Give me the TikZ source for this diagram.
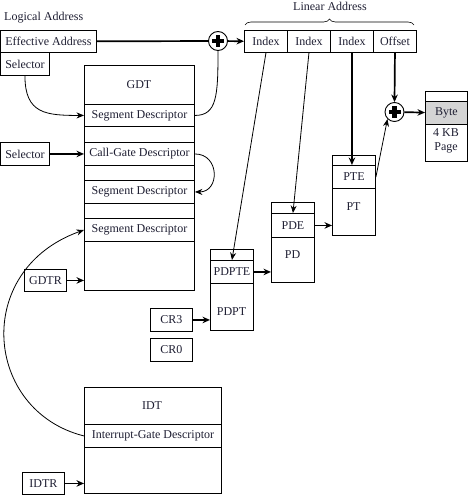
\documentclass[tikz,border=0pt]{standalone}
\usepackage{fontspec}
\setmainfont{Liberation Serif}
\usepackage{xcolor}
\usetikzlibrary{positioning, arrows.meta, decorations.pathreplacing}
\definecolor{bytegray}{RGB}{212, 212, 212}
\definecolor{inkdark}{RGB}{30, 30, 50}
\tikzset{
    cell/.style={draw, rectangle, line width=0.9pt, inner sep=0pt, anchor=north west, minimum height=23pt},
    reg/.style={cell, minimum width=42pt},
    tbl/.style={draw, rectangle, line width=0.9pt, inner sep=0pt, anchor=north west},
    adder/.style={draw, circle, line width=0.9pt, minimum size=19pt, inner sep=0pt,
        path picture={
            \fill ([xshift=-6pt, yshift=-2.1pt]path picture bounding box.center) rectangle ([xshift=6pt, yshift=2.1pt]path picture bounding box.center);
            \fill ([xshift=-2.1pt, yshift=-6pt]path picture bounding box.center) rectangle ([xshift=2.1pt, yshift=6pt]path picture bounding box.center);
        }},
    link/.style={-{Stealth[length=7.5pt, width=6pt]}, line width=0.8pt},
    boldlink/.style={-{Stealth[length=7.5pt, width=6.5pt]}, line width=1.7pt}
}

\begin{document}
\begin{tikzpicture}[x=1pt, y=-1pt, font=\fontsize{12}{13.5}\selectfont, text=inkdark]
                \useasboundingbox (0,0) rectangle (468,495);

                % Logical address
                \node[anchor=west, inner sep=0pt] (logical) at (4,18) {Logical Address};
                \node[cell, minimum width=96pt, minimum height=22pt] (eff) at (0,30) {Effective Address};
                \node[cell, minimum width=49pt] (sel1) at (0,52) {Selector};
                \node[adder] (sum1) at (218,41) {};

                % Linear address
                \node[cell, minimum width=43pt, minimum height=22pt] (idx1) at (244,30) {Index};
                \node[cell, minimum width=43pt, minimum height=22pt] (idx2) at (287,30) {Index};
                \node[cell, minimum width=43pt, minimum height=22pt] (idx3) at (330,30) {Index};
                \node[cell, minimum width=43pt, minimum height=22pt] (ofs) at (373,30) {Offset};
                \draw[decorate, decoration={brace, amplitude=6pt}, line width=0.6pt] (245,25) -- (414,25);
                \node (linear) at (330,6) {Linear Address};

                % GDT
                \node[tbl, minimum width=110pt, minimum height=225pt] (gdt) at (84,65) {};
                \node (gdttitle) at (139,85) {GDT};
                \node[cell, minimum width=110pt, minimum height=22pt] (seg1) at (84,104) {Segment Descriptor};
                \node[cell, minimum width=110pt] (call) at (84,142) {Call-Gate Descriptor};
                \node[cell, minimum width=110pt] (seg2) at (84,180) {Segment Descriptor};
                \node[cell, minimum width=110pt] (seg3) at (84,218) {Segment Descriptor};
                \node[cell, minimum width=49pt] (sel2) at (0,142) {Selector};
                \node[reg, minimum height=22pt] (gdtr) at (24,269) {GDTR};

                % IDT
                \node[tbl, minimum width=137pt, minimum height=106pt] (idt) at (84,387) {};
                \node (idttitle) at (152,406) {IDT};
                \node[cell, minimum width=137pt] (intg) at (84,424) {Interrupt-Gate Descriptor};
                \node[reg, minimum height=22pt] (idtr) at (22,472) {IDTR};

                % Control registers
                \node[reg] (cr3) at (150,308) {CR3};
                \node[reg] (cr0) at (150,338) {CR0};

                % Paging structures
                \node[tbl, minimum width=43pt, minimum height=81pt] (pdpt) at (210,249) {};
                \node[cell, minimum width=43pt] (pdpte) at (210,260) {PDPTE};
                \node (pdptlabel) at (231.5,312) {PDPT};
                \node[tbl, minimum width=43pt, minimum height=80pt] (pd) at (271,202) {};
                \node[cell, minimum width=43pt, minimum height=24pt] (pde) at (271,213) {PDE};
                \node (pdlabel) at (292.5,255) {PD};
                \node[tbl, minimum width=43pt, minimum height=80pt] (pt) at (332,155) {};
                \node[cell, minimum width=43pt] (pte) at (332,165) {PTE};
                \node (ptlabel) at (353.5,207) {PT};

                % Page
                \node[tbl, minimum width=42pt, minimum height=70pt] (page) at (425,91) {};
                \node[cell, minimum width=42pt, fill=bytegray] (byte) at (425,101) {Byte};
                \node[align=center, inner sep=0pt] (pagelabel) at (446,141) {4 KB\\Page};
                \node[adder] (sum2) at (394.5,112) {};

                % Connectors
                \draw[line width=1.7pt] (eff) -- (sum1);
                \draw[boldlink] (sum1) -- (idx1);
                \draw[line width=0.8pt] (seg1.east) .. controls +(22,0) and +(0,45) .. (sum1.south);
                \draw[link] (sel1.south) .. controls +(0,38) and +(-38,0) .. (seg1.west);
                \draw[boldlink] (sel2) -- (call);
                \draw[link] (call.east) .. controls +(25,0) and +(25,0) .. (seg2.east);
                \draw[boldlink] (gdtr) -- (gdtr -| gdt.west);
                \draw[boldlink] (idtr) -- (idtr -| idt.west);
                \draw[link] (intg.west) .. controls +(-100,-25) and +(-112,40) .. (seg3.west);
                \draw[link] (idx1.south) -- (pdpte.north);
                \draw[link] (idx2.south) -- (pde.north);
                \draw[boldlink] (idx3.south) -- (idx3.south |- pte.north);
                \draw[boldlink] (ofs.south) -- (sum2.north);
                \draw[boldlink] (sum2) -- (byte);
                \draw[link] (pte.east) -- (sum2.south west);
                \draw[boldlink] (pdpte.east) -- (pdpte.east -| pd.west);
                \draw[boldlink] (pde.east) -- (pde.east -| pt.west);
                \draw[boldlink] (cr3.east) -- (cr3.east -| pdpt.west);
\end{tikzpicture}
\end{document}
